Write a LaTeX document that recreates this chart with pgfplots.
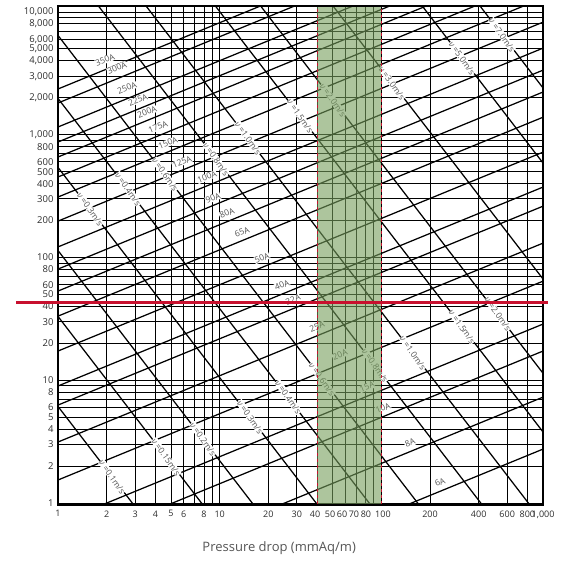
\documentclass[border=0pt]{standalone}
\usepackage{fontspec}
\setmainfont{Open Sans}
\usepackage{pgfplots}
\pgfplotsset{compat=1.18}
\definecolor{bandgreen}{RGB}{118,158,92}
\definecolor{redline}{RGB}{200,16,46}
\definecolor{lblgray}{RGB}{85,85,85}
\definecolor{tickgray}{RGB}{45,45,45}
\tikzset{
  diag/.style={black, line width=1.25pt},
  plbl/.style={font=\fontsize{8.5}{9}\selectfont, text=lblgray, fill=white, inner sep=0.4pt, rotate=22},
  vlbl/.style={font=\fontsize{8.5}{9}\selectfont, text=lblgray, fill=white, inner sep=0.4pt, rotate=-55},
}
\newcommand{\nuv}[1]{\textit{ν} =#1m/s}
\begin{document}
\begin{tikzpicture}
\begin{axis}[
  scale only axis, width=485pt, height=499pt,
  xmode=log, ymode=log,
  xmin=1, xmax=1000, ymin=0.963, ymax=11200,
  axis line style={line width=0.8pt},
  xmajorgrids=false, ymajorgrids=false,
  xminorgrids=true, yminorgrids=true,
  minor grid style={black, line width=1pt},
  minor xtick={1,2,3,4,5,6,7,8,9,10,20,30,40,50,60,70,80,90,100,200,400,600,800,1000},
  minor ytick={1,2,3,4,5,6,7,8,9,10,20,30,40,50,60,70,80,90,100,200,300,400,500,600,700,800,900,1000,2000,3000,4000,5000,6000,7000,8000,9000,10000},
  xtick={1,2,3,4,5,6,8,10,20,30,38.9,48.2,57.1,67.7,80.3,102.3,200,400,600,800,1000},
  xticklabels={1,2,3,4,5,6,8,10,20,30,40,50,60,70,80,100,200,400,600,800,{1,000}},
  ytick={1,2,3,4,5,6,8,10,20,30,40,50,60,80,100,200,300,400,500,600,800,1000,2000,3000,4000,5000,6000,8000,10000},
  yticklabels={1,2,3,4,5,6,8,10,20,30,40,50,60,80,100,200,300,400,500,600,800,{1,000},{2,000},{3,000},{4,000},{5,000},{6,000},{8,000},{10,000}},
  major tick length=0pt, minor tick length=0pt,
  ticklabel style={font=\fontsize{9.5}{10}\selectfont, text=tickgray},
  xticklabel style={yshift=-2pt, font=\fontsize{9}{10}\selectfont},
  yticklabel style={xshift=-1pt},
]
% pipe size lines
\addplot[diag] coordinates {(1,2360) (1000,98400)};
\addplot[diag] coordinates {(1,1815) (1000,75700)};
\addplot[diag] coordinates {(1,1157) (1000,48300)};
\addplot[diag] coordinates {(1,873) (1000,36400)};
\addplot[diag] coordinates {(1,659) (1000,27500)};
\addplot[diag] coordinates {(1,453) (1000,18900)};
\addplot[diag] coordinates {(1,311) (1000,13000)};
\addplot[diag] coordinates {(1,198) (1000,8270)};
\addplot[diag] coordinates {(1,122) (1000,5080)};
\addplot[diag] coordinates {(1,80.5) (1000,3360)};
\addplot[diag] coordinates {(1,53.3) (1000,2230)};
\addplot[diag] coordinates {(1,33.3) (1000,1390)};
\addplot[diag] coordinates {(1,17.3) (1000,722)};
\addplot[diag] coordinates {(1,8.98) (1000,375)};
\addplot[diag] coordinates {(1,6.28) (1000,262)};
\addplot[diag] coordinates {(1,3.14) (1000,131)};
\addplot[diag] coordinates {(1,1.54) (1000,64.2)};
\addplot[diag] coordinates {(1,0.687) (1000,28.7)};
\addplot[diag] coordinates {(1,0.414) (1000,17.3)};
\addplot[diag] coordinates {(1,0.175) (1000,7.29)};
\addplot[diag] coordinates {(1,0.0659) (1000,2.75)};
% velocity lines
\addplot[diag] coordinates {(1,6.12) (1000,4.46e-5)};
\addplot[diag] coordinates {(1,33.1) (1000,2.41e-4)};
\addplot[diag] coordinates {(1,114) (1000,8.31e-4)};
\addplot[diag] coordinates {(1,542) (1000,3.95e-3)};
\addplot[diag] coordinates {(1,1977) (1000,0.0144)};
\addplot[diag] coordinates {(1,6446) (1000,0.0470)};
\addplot[diag] coordinates {(1,30000) (1000,0.219)};
\addplot[diag] coordinates {(1,95900) (1000,0.699)};
\addplot[diag] coordinates {(1,5.2e5) (1000,3.79)};
\addplot[diag] coordinates {(1,1.57e6) (1000,11.4)};
\addplot[diag] coordinates {(1,9.16e6) (1000,66.8)};
\addplot[diag] coordinates {(1,8.07e7) (1000,588)};
\addplot[diag] coordinates {(1,3.3e8) (1000,2406)};
% pipe labels
\node[plbl] at (axis cs:1.953,4064) {350A};
\node[plbl] at (axis cs:2.317,3499) {300A};
\node[plbl] at (axis cs:2.671,2404) {250A};
\node[plbl] at (axis cs:3.124,1919) {225A};
\node[plbl] at (axis cs:3.551,1531) {200A};
\node[plbl] at (axis cs:4.154,1156) {175A};
\node[plbl] at (axis cs:4.788,856) {150A};
\node[plbl] at (axis cs:5.847,600) {125A};
\node[plbl] at (axis cs:8.35,453) {100A};
\node[plbl] at (axis cs:9.09,305) {90A};
\node[plbl] at (axis cs:11.09,230) {80A};
\node[plbl] at (axis cs:13.74,161) {65A};
\node[plbl] at (axis cs:18.26,99.1) {50A};
\node[plbl] at (axis cs:24.28,59.7) {40A};
\node[plbl] at (axis cs:28.4,45.1) {32A};
\node[plbl] at (axis cs:40.0,27.2) {25A};
\node[plbl] at (axis cs:55.5,16.1) {20A};
\node[plbl] at (axis cs:81.5,8.81) {15A};
\node[plbl] at (axis cs:102.3,5.94) {10A};
\node[plbl] at (axis cs:150.2,3.08) {8A};
\node[plbl] at (axis cs:230.3,1.48) {6A};
% velocity labels, upper set
\node[vlbl] at (axis cs:1.577,248) {\nuv{0.3}};
\node[vlbl] at (axis cs:2.71,361) {\nuv{0.4}};
\node[vlbl] at (axis cs:4.59,474) {\nuv{0.6}};
\node[vlbl] at (axis cs:9.49,634) {\nuv{0.8}};
\node[vlbl] at (axis cs:14.96,941) {\nuv{1.0}};
\node[vlbl] at (axis cs:31.4,1422) {\nuv{1.5}};
\node[vlbl] at (axis cs:50.2,1919) {\nuv{2.0}};
\node[vlbl] at (axis cs:116.3,2640) {\nuv{3.0}};
\node[vlbl] at (axis cs:315,4220) {\nuv{5.0}};
\node[vlbl] at (axis cs:557,6500) {\nuv{7.0}};
% velocity labels, lower set
\node[vlbl] at (axis cs:2.16,1.63) {\nuv{0.1}};
\node[vlbl] at (axis cs:4.66,2.37) {\nuv{0.15}};
\node[vlbl] at (axis cs:7.88,3.32) {\nuv{0.2}};
\node[vlbl] at (axis cs:15.4,5.02) {\nuv{0.3}};
\node[vlbl] at (axis cs:26.5,7.30) {\nuv{0.4}};
\node[vlbl] at (axis cs:42.9,10.2) {\nuv{0.6}};
\node[vlbl] at (axis cs:91.3,13.2) {\nuv{0.8}};
\node[vlbl] at (axis cs:156.8,16.7) {\nuv{1.0}};
\node[vlbl] at (axis cs:315,27.2) {\nuv{1.5}};
\node[vlbl] at (axis cs:526,34.7) {\nuv{2.0}};
% green band
\addplot[draw=none, fill=bandgreen, fill opacity=0.6] coordinates {(40,0.5) (100,0.5) (100,20000) (40,20000)} -- cycle;
\addplot[redline, dashed, line width=1pt] coordinates {(40,0.5) (40,20000)};
\addplot[redline, dashed, line width=1pt] coordinates {(100,0.5) (100,20000)};
\end{axis}
\begin{axis}[
  scale only axis, width=485pt, height=499pt,
  xmode=log, ymode=log,
  xmin=1, xmax=1000, ymin=0.963, ymax=11200,
  ticks=none, axis line style={line width=2.4pt}, clip=false,
]
\addplot[redline, line width=2.4pt] coordinates {(0.55,43) (1070,43)};
\node[font=\fontsize{13}{15}\selectfont, text=lblgray] at (axis description cs:0.456,-0.086) {Pressure drop (mmAq/m)};
\path (axis description cs:-0.1196,-0.1222) rectangle (axis description cs:1.0371,1.012);
\end{axis}
\end{tikzpicture}
\end{document}
